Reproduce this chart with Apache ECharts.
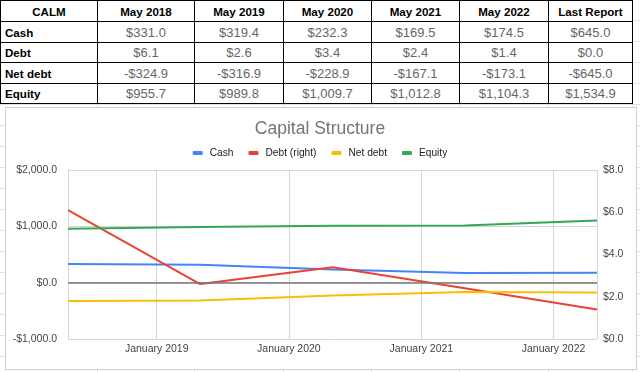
<!DOCTYPE html>
<html>
<head>
<meta charset="utf-8">
<script src="https://cdn.jsdelivr.net/npm/echarts@6/dist/echarts.min.js"></script>
<style>
  html, body { margin:0; padding:0; width:640px; height:372px; overflow:hidden; background:#fff; font-family:"Liberation Sans", Arial, sans-serif; }
  #bg { position:absolute; left:0; top:0; width:640px; height:372px;
    background-image:
      repeating-linear-gradient(to bottom, transparent 0, transparent 20px, #e2e2e2 20px, #e2e2e2 21px);
  }
  .vl { position:absolute; top:0; width:1px; height:372px; background:#e2e2e2; }
  #box { position:absolute; left:5px; top:107px; width:630px; height:261px; border:1px solid #cfcfcf; background:#fff; }
  #chart { position:absolute; left:0; top:0; width:640px; height:372px; }
  table { position:absolute; left:0; top:0; border-collapse:collapse; table-layout:fixed; background:#fff; z-index:2; }
  td { border:1px solid #000; padding:0; font-size:13px; color:#666; text-align:center; white-space:nowrap; overflow:hidden; line-height:19px; }
  td.h { font-weight:bold; color:#000; font-size:11.6px; }
  td.l { text-align:left; padding-left:4px; }
</style>
</head>
<body>
<div id="bg"></div>
<div id="vls"></div>
<div id="box"></div>
<div id="chart"></div>
<table id="tbl"></table>
<script>
// ---- data ----
const corner = 'CALM';
const periods = ['May 2018', 'May 2019', 'May 2020', 'May 2021', 'May 2022', 'Last Report'];
const rowNames = ['Cash', 'Debt', 'Net debt', 'Equity'];
const cash    = [331.0, 319.4, 232.3, 169.5, 174.5, 645.0];
const debt    = [6.1, 2.6, 3.4, 2.4, 1.4, 0.0];
const netDebt = [-324.9, -316.9, -228.9, -167.1, -173.1, -645.0];
const equity  = [955.7, 989.8, 1009.7, 1012.8, 1104.3, 1534.9];
const chartDates = ['2018-05-01', '2019-05-01', '2020-05-01', '2021-05-01', '2022-05-01'];
const chartTitle = 'Capital Structure';
const seriesNames = ['Cash', 'Debt (right)', 'Net debt', 'Equity'];
const xTickLabels = ['January 2019', 'January 2020', 'January 2021', 'January 2022'];

// ---- table ----
const colWidths = [97, 97, 89, 88, 88, 89, 84];
const rowHeights = [21, 21, 20, 21, 20];
const fmt = v => {
  const s = Math.abs(v).toFixed(1).replace(/\B(?=(\d{3})+(?!\d))/g, ',');
  return (v < 0 ? '-$' : '$') + s;
};
const tbl = document.getElementById('tbl');
let html = '<colgroup>' + colWidths.map(w => '<col style="width:' + w + 'px">').join('') + '</colgroup>';
html += '<tr style="height:' + rowHeights[0] + 'px"><td class="h">' + corner + '</td>' + periods.map(p => '<td class="h">' + p + '</td>').join('') + '</tr>';
const rows = [cash, debt, netDebt, equity];
rows.forEach((r, i) => {
  html += '<tr style="height:' + rowHeights[i + 1] + 'px"><td class="h l">' + rowNames[i] + '</td>' + r.map(v => '<td>' + fmt(v) + '</td>').join('') + '</tr>';
});
tbl.innerHTML = html;
tbl.style.width = colWidths.reduce((a, b) => a + b, 0) + 'px';
// spreadsheet gridlines
let x = 0; const vls = document.getElementById('vls');
colWidths.forEach(w => { x += w; const d = document.createElement('div'); d.className = 'vl'; d.style.left = x + 'px'; vls.appendChild(d); });

// ---- chart ----
const n = chartDates.length;
const pts = arr => chartDates.map((d, i) => [d, arr[i]]);
const money = v => {
  const s = Math.abs(v).toFixed(1).replace(/\B(?=(\d{3})+(?!\d))/g, ',');
  return (v < 0 ? '-$' : '$') + s;
};
const chart = echarts.init(document.getElementById('chart'), null, { renderer: 'canvas' });
const axisText = { color: '#444', fontSize: 10.5, fontFamily: 'Liberation Sans, Arial, sans-serif' };
chart.setOption({
  animation: false,
  title: {
    text: chartTitle, left: 'center', top: 115,
    textStyle: { color: '#757575', fontSize: 17.5, fontWeight: 'normal', fontFamily: 'Liberation Sans, Arial, sans-serif' }
  },
  legend: {
    top: 143, left: 'center', itemWidth: 10, itemHeight: 4, itemGap: 15, icon: 'roundRect',
    textStyle: { color: '#222', fontSize: 10.2, fontFamily: 'Liberation Sans, Arial, sans-serif', padding: [0, 0, 0, 2] },
    data: seriesNames
  },
  grid: { left: 68, right: 43, top: 170, bottom: 33, containLabel: false },
  xAxis: {
    type: 'time', min: chartDates[0], max: chartDates[n - 1],
    minInterval: 365 * 24 * 3600 * 1000, maxInterval: 366 * 24 * 3600 * 1000,
    axisLine: { show: false }, axisTick: { show: false },
    axisLabel: Object.assign({}, axisText, {
      margin: 5, hideOverlap: false,
      formatter: v => { const d = new Date(v); return (d.getMonth() === 0) ? xTickLabels[d.getFullYear() - 2019] || '' : ''; }
    }),
    splitLine: { show: true, lineStyle: { color: '#d6d6d6', width: 1 } }
  },
  yAxis: [
    {
      type: 'value', min: -1000, max: 2000, interval: 1000,
      axisLine: { show: false }, axisTick: { show: false },
      axisLabel: Object.assign({}, axisText, { margin: 11, formatter: money }),
      splitLine: { lineStyle: { color: '#d6d6d6', width: 1 } }
    },
    {
      type: 'value', min: 0, max: 8, interval: 2, position: 'right',
      axisLine: { show: false }, axisTick: { show: false },
      axisLabel: Object.assign({}, axisText, { margin: 6, formatter: money }),
      splitLine: { show: false }
    }
  ],
  series: [
    { name: seriesNames[0], type: 'line', data: pts(cash), yAxisIndex: 0, symbol: 'none', color: '#4285F4', lineStyle: { width: 2 },
      markLine: { silent: true, symbol: 'none', label: { show: false }, lineStyle: { color: '#777', width: 1.5, type: 'solid' }, data: [{ yAxis: 0 }] } },
    { name: seriesNames[1], type: 'line', data: pts(debt), yAxisIndex: 1, symbol: 'none', color: '#EA4335', lineStyle: { width: 2 } },
    { name: seriesNames[2], type: 'line', data: pts(netDebt), yAxisIndex: 0, symbol: 'none', color: '#FBBC04', lineStyle: { width: 2 } },
    { name: seriesNames[3], type: 'line', data: pts(equity), yAxisIndex: 0, symbol: 'none', color: '#34A853', lineStyle: { width: 2 } }
  ]
});
</script>
</body>
</html>
